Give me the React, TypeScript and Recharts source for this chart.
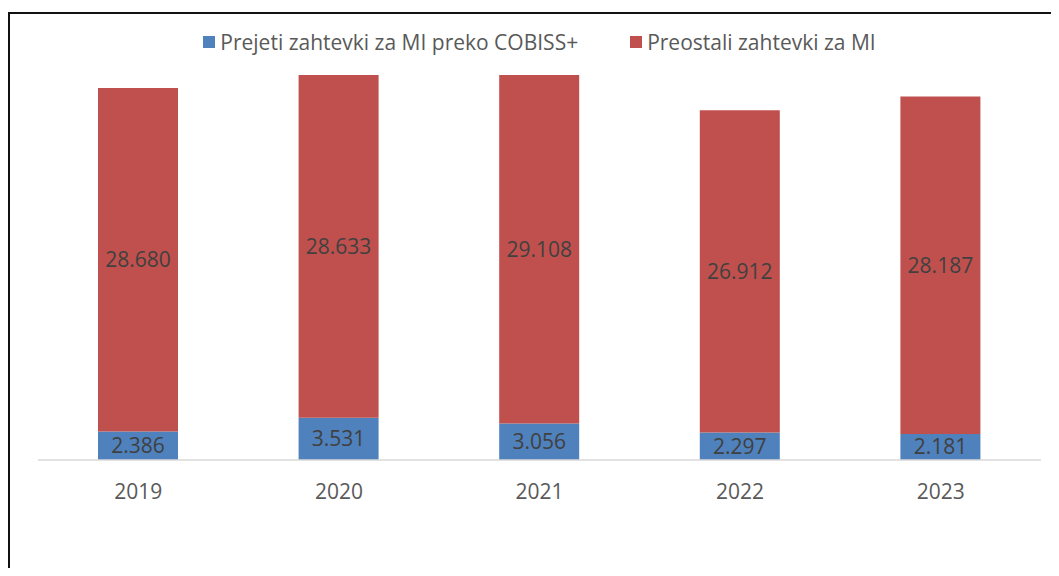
import { BarChart, Bar, XAxis, YAxis, Legend, LabelList } from 'recharts';

const years = ['2019', '2020', '2021', '2022', '2023'];
const cobissRequests = [2386, 3531, 3056, 2297, 2181];
const otherRequests = [28680, 28633, 29108, 26912, 28187];

const seriesNames = ['Prejeti zahtevki za MI preko COBISS+', 'Preostali zahtevki za MI'];
const seriesColors = ['#4F81BD', '#C0504D'];

const data = years.map((year, i) => ({
  year,
  cobiss: cobissRequests[i],
  other: otherRequests[i],
}));

const FONT = '"Open Sans", sans-serif';

// slovenian thousands separator
const fmt = (v: any) => String(v).replace(/\B(?=(\d{3})+(?!\d))/g, '.');

function LegendContent() {
  return (
    <div style={{ display: 'flex', justifyContent: 'center', gap: 52, height: 24, lineHeight: '24px', fontFamily: FONT, fontSize: 21, color: '#595959' }}>
      {seriesNames.map((name, i) => (
        <div key={name} style={{ display: 'flex', alignItems: 'center' }}>
          <div style={{ width: 12, height: 12, background: seriesColors[i], marginRight: 5 }} />
          <span>{name}</span>
        </div>
      ))}
    </div>
  );
}

export default function App() {
  return (
    <div style={{ paddingTop: 4, marginRight: -8, marginBottom: -8 }}>
      <div style={{ height: 562, borderLeft: '2px solid #111', borderTop: '2px solid #111', background: '#fff' }}>
        <BarChart
          width={1041}
          height={550}
          data={data}
          margin={{ top: 3, right: 10, bottom: 74, left: 28 }}
          style={{ fontFamily: FONT }}
        >
          <XAxis
            dataKey="year"
            axisLine={{ stroke: '#d9d9d9', strokeWidth: 1.5 }}
            tickLine={false}
            tickMargin={18}
            height={30}
            tick={{ fill: '#595959', fontSize: 21, fontFamily: FONT }}
          />
          <YAxis hide domain={[0, 35000]} />
          <Legend verticalAlign="top" wrapperStyle={{ top: 16 }} content={<LegendContent />} />
          <Bar dataKey="cobiss" stackId="a" fill={seriesColors[0]} barSize={80} isAnimationActive={false}>
            <LabelList dataKey="cobiss" position="center" formatter={fmt} fill="#404040" fontSize={21} fontFamily={FONT} />
          </Bar>
          <Bar dataKey="other" stackId="a" fill={seriesColors[1]} barSize={80} isAnimationActive={false}>
            <LabelList dataKey="other" position="center" formatter={fmt} fill="#404040" fontSize={21} fontFamily={FONT} />
          </Bar>
        </BarChart>
      </div>
    </div>
  );
}
